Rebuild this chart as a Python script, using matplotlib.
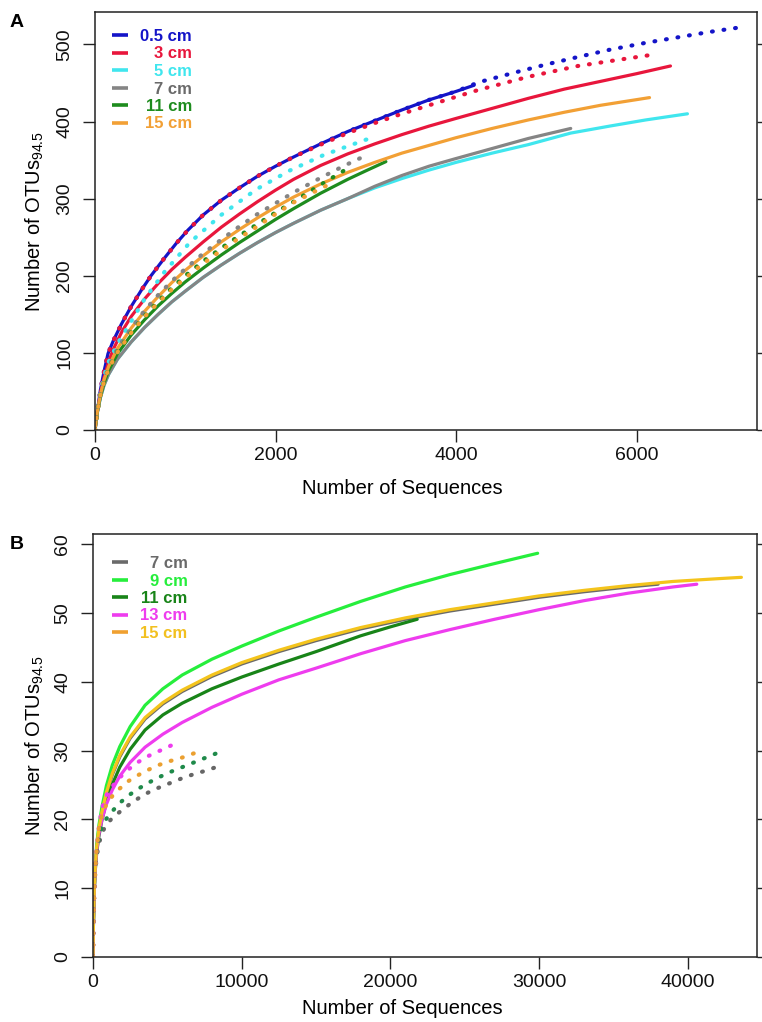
import matplotlib
matplotlib.use('Agg')
import matplotlib.pyplot as plt
from matplotlib.lines import Line2D

plt.rcParams['font.family'] = ['Liberation Sans', 'DejaVu Sans']
plt.rcParams['mathtext.fontset'] = 'custom'
plt.rcParams['mathtext.rm'] = 'Liberation Sans'
plt.rcParams['mathtext.it'] = 'Liberation Sans:italic'
plt.rcParams['mathtext.bf'] = 'Liberation Sans:bold'

# ---------------- Panel A data (x = sequences, y = OTUs) ----------------
a05_solid_x = [0, 25, 60, 100, 144, 200, 291, 400, 512, 620, 770, 900, 1028, 1200, 1400, 1600, 1800,
               2000, 2200, 2500, 2800, 3100, 3400, 3700, 4000, 4200]
a05_solid_y = [0, 24, 52, 76, 99, 115, 137, 160, 181, 200, 223, 242, 259, 279, 298, 314, 329,
               342, 354, 371, 387, 401, 415, 428, 439, 447]
a3_solid_x = [0, 25, 60, 100, 150, 200, 300, 400, 550, 700, 850, 1000, 1200, 1400, 1600, 1800, 2000,
              2200, 2500, 2800, 3100, 3400, 3700, 4000, 4400, 4800, 5200, 5600, 6000, 6376]
a3_solid_y = [0, 23, 48, 68, 88, 104, 128, 147, 170, 190, 208, 224, 244, 263, 280, 296, 311,
              325, 343, 358, 371, 383, 394, 404, 417, 430, 442, 452, 462, 472]
a5_solid_x = [0, 25, 60, 100, 150, 250, 400, 550, 700, 850, 1000, 1200, 1400, 1600, 1800, 2000, 2200,
              2500, 2800, 3100, 3400, 3700, 4000, 4400, 4800, 5271, 5700, 6100, 6564]
a5_solid_y = [0, 22, 42, 58, 72, 92, 114, 133, 150, 166, 180, 198, 214, 229, 243, 256, 268,
              285, 300, 314, 326, 337, 347, 359, 370, 385, 394, 402, 410]
a7_solid_x = [0, 25, 60, 100, 150, 250, 400, 550, 700, 850, 1000, 1200, 1400, 1600, 1800, 2000, 2200,
              2500, 2800, 3100, 3400, 3700, 4000, 4400, 4800, 5271]
a7_solid_y = [0, 22, 42, 58, 72, 92, 114, 133, 150, 166, 180, 198, 214, 229, 243, 256, 268,
              285, 300, 316, 330, 342, 352, 365, 378, 391]
a11_solid_x = [0, 25, 60, 100, 150, 250, 400, 550, 700, 850, 1000, 1200, 1400, 1600, 1800, 2000, 2200,
               2500, 2800, 3000, 3223]
a11_solid_y = [0, 23, 44, 61, 77, 99, 123, 143, 161, 177, 192, 210, 227, 243, 258, 273, 287,
               307, 325, 336, 348]
a15_solid_x = [0, 25, 60, 100, 150, 250, 400, 550, 700, 850, 1000, 1200, 1400, 1600, 1800, 2000, 2200,
               2500, 2800, 3100, 3400, 3700, 4000, 4400, 4800, 5200, 5600, 6144]
a15_solid_y = [0, 23, 46, 65, 82, 106, 132, 154, 173, 191, 207, 226, 244, 260, 275, 289, 302,
               319, 334, 347, 359, 369, 379, 391, 402, 412, 421, 431]

a05_dot_x = [0, 25, 60, 100, 144, 200, 291, 400, 512, 620, 770, 900, 1028, 1200, 1400, 1600, 1800,
             2000, 2200, 2500, 2800, 3100, 3400, 3700, 4000, 4254, 4700, 5000, 5400, 5700, 6100,
             6450, 6800, 7200]
a05_dot_y = [0, 24, 52, 76, 99, 115, 137, 160, 181, 200, 223, 242, 259, 279, 298, 314, 329,
             342, 354, 371, 387, 401, 415, 428, 439, 451, 465, 474, 485, 493, 502, 509, 516, 523]
a3_dot_x = [0, 25, 60, 100, 144, 200, 291, 400, 512, 620, 770, 900, 1028, 1200, 1400, 1600, 1800,
            2000, 2200, 2500, 2800, 3100, 3400, 3700, 4000, 4250, 4800, 5350, 5800, 6200]
a3_dot_y = [0, 24, 52, 76, 99, 115, 137, 160, 181, 200, 223, 242, 259, 279, 298, 314, 329,
            342, 354, 370, 385, 398, 410, 421, 432, 441, 458, 472, 480, 487]
a5_dot_x = [0, 25, 60, 100, 150, 250, 365, 550, 770, 1050, 1400, 1787, 2150, 2523, 2800, 3112]
a5_dot_y = [0, 24, 50, 70, 88, 112, 134, 170, 205, 243, 279, 312, 336, 356, 368, 381]
a7_dot_x = [0, 25, 60, 100, 150, 250, 400, 550, 700, 850, 1000, 1200, 1400, 1600, 1800, 2000, 2200,
            2500, 2750, 2984]
a7_dot_y = [0, 23, 46, 65, 82, 106, 132, 155, 175, 193, 209, 229, 247, 264, 280, 294, 308,
            327, 342, 355]
a11_dot_x = [0, 25, 60, 100, 150, 250, 400, 550, 700, 850, 1000, 1200, 1400, 1600, 1800, 2000, 2200,
             2500, 2782]
a11_dot_y = [0, 23, 45, 63, 79, 102, 127, 148, 167, 184, 200, 219, 236, 252, 267, 282, 296,
             318, 338]
a15_dot_x = [0, 25, 60, 100, 150, 250, 400, 550, 700, 850, 1000, 1200, 1400, 1600, 1800, 2000, 2200,
             2450, 2652]
a15_dot_y = [0, 23, 45, 63, 79, 101, 126, 147, 165, 182, 197, 216, 233, 249, 264, 280, 295,
             310, 322]

a_labels = ['0.5 cm', '3 cm', '5 cm', '7 cm', '11 cm', '15 cm']
a_colors = ['#1414C8', '#E8163C', '#40E6EE', '#858585', '#1E8C1E', '#F2A035']
a_text_colors = ['#1414C8', '#E8163C', '#40E6EE', '#6A6A6A', '#1E8C1E', '#F2A035']

# ---------------- Panel B data ----------------
b7_solid_x = [0, 30, 90, 150, 250, 400, 600, 900, 1300, 1800, 2500, 3500, 4700, 6000, 8000, 10000,
              12500, 15000, 18000, 21000, 24000, 27000, 30000, 33000, 36000, 38000]
b7_solid_y = [0, 5, 10, 12.9, 15.8, 18.5, 20.9, 23.7, 26.5, 29.1, 31.8, 34.6, 36.8, 38.6, 40.8, 42.6,
              44.4, 46.0, 47.7, 49.1, 50.3, 51.3, 52.3, 53.1, 53.8, 54.2]
b9_solid_x = [0, 30, 90, 150, 250, 400, 600, 900, 1300, 1800, 2500, 3500, 4700, 6000, 8000, 10000,
              12500, 15000, 18000, 21000, 24000, 27000, 29900]
b9_solid_y = [0, 5, 10, 13.2, 16.4, 19.2, 21.8, 24.9, 27.9, 30.6, 33.5, 36.6, 39.0, 41.0, 43.3, 45.2,
              47.4, 49.4, 51.7, 53.8, 55.6, 57.2, 58.7]
b11_solid_x = [0, 30, 90, 150, 250, 400, 600, 900, 1300, 1800, 2500, 3500, 4700, 6000, 8000, 10000,
               12500, 15000, 18000, 20000, 21800]
b11_solid_y = [0, 5, 10, 12.5, 15.2, 17.6, 19.9, 22.5, 25.1, 27.6, 30.2, 33.0, 35.2, 36.9, 39.0, 40.7,
               42.6, 44.4, 46.7, 48.0, 49.1]
b13_solid_x = [0, 30, 90, 150, 250, 400, 600, 900, 1300, 1800, 2500, 3500, 4700, 6000, 8000, 10000,
               12500, 15000, 18000, 21000, 24000, 27000, 30000, 33000, 36000, 39000, 40600]
b13_solid_y = [0, 5, 10, 12.8, 15.5, 17.9, 20.0, 22.2, 24.3, 26.3, 28.3, 30.5, 32.4, 34.1, 36.3, 38.2,
               40.3, 42.0, 44.1, 46.0, 47.6, 49.1, 50.5, 51.8, 52.9, 53.8, 54.2]
b15_solid_x = [0, 30, 90, 150, 250, 400, 600, 900, 1300, 1800, 2500, 3500, 4700, 6000, 8000, 10000,
               12500, 15000, 18000, 21000, 24000, 27000, 30000, 33000, 36000, 39000, 42000, 43600]
b15_solid_y = [0, 5, 10, 13, 16, 18.7, 21.1, 23.9, 26.7, 29.3, 32.0, 34.8, 37.0, 38.8, 41.0, 42.8,
               44.6, 46.2, 47.9, 49.3, 50.5, 51.5, 52.5, 53.3, 54.0, 54.6, 55.0, 55.2]

b7_dot_x = [0, 30, 90, 150, 250, 400, 600, 900, 1300, 1800, 2400, 3000, 3700, 4400, 5200, 6000, 6800,
            7600, 8400]
b7_dot_y = [0, 5, 10, 12.3, 14.6, 16.5, 18.0, 19.3, 20.2, 21.1, 22.1, 23.0, 23.9, 24.6, 25.3, 26.0, 26.6,
            27.1, 27.7]
b11_dot_x = [0, 30, 90, 150, 250, 400, 600, 900, 1300, 1800, 2400, 3000, 3700, 4400, 5200, 6000, 6800,
             7600, 8400]
b11_dot_y = [0, 5, 10, 12.6, 15.3, 17.6, 19.0, 20.1, 21.2, 22.4, 23.5, 24.4, 25.3, 26.1, 26.9, 27.6, 28.3,
             29.0, 29.7]
b13_dot_x = [0, 30, 90, 150, 250, 400, 600, 900, 1300, 1800, 2400, 3000, 3700, 4500, 5300]
b13_dot_y = [0, 5, 10, 13.0, 16.0, 19.0, 21.6, 23.5, 24.8, 26.1, 27.3, 28.3, 29.2, 30.0, 30.8]
b15_dot_x = [0, 30, 90, 150, 250, 400, 600, 900, 1300, 1800, 2400, 3000, 3700, 4400, 5200, 6000, 6900]
b15_dot_y = [0, 5, 10, 12.8, 15.8, 18.8, 20.6, 22.2, 23.4, 24.5, 25.6, 26.4, 27.2, 27.9, 28.5, 29.0, 29.7]

b_labels = ['7 cm', '9 cm', '11 cm', '13 cm', '15 cm']
b_colors = ['#6A6A6A', '#26EE3C', '#188418', '#EE3CEE', '#F4C41C']
b_legend_line_colors = ['#6A6A6A', '#26EE3C', '#188418', '#EE3CEE', '#F0A030']
b_text_colors = ['#6A6A6A', '#26EE3C', '#188418', '#EE3CEE', '#F2C020']
b_dot_colors = ['#666666', '#1F8A4A', '#EE3CEE', '#EBA030']

a_xticks = [0, 2000, 4000, 6000]
a_yticks = [0, 100, 200, 300, 400, 500]
b_xticks = [0, 10000, 20000, 30000, 40000]
b_yticks = [0, 10, 20, 30, 40, 50, 60]

# ---------------- Layout ----------------
W, H, DPI = 762, 1022, 100
fig = plt.figure(figsize=(W / DPI, H / DPI), dpi=DPI)


def px_axes(l, t, r, b):
    return fig.add_axes([l / W, 1 - b / H, (r - l) / W, (b - t) / H])


axA = px_axes(95, 12, 757, 430)
axB = px_axes(93, 534, 757, 957)

SOLID_LW = 2.3
DOT_LW = 3.0
DOT_STYLE = (0, (0.2, 2.6))


def solid(ax, x, y, c):
    ax.plot(x, y, color=c, lw=SOLID_LW, solid_capstyle='round', solid_joinstyle='round')


def dotted(ax, x, y, c):
    ax.plot(x, y, color=c, lw=DOT_LW, linestyle=DOT_STYLE, dash_capstyle='round')


# Panel A
a_solids = [(a05_solid_x, a05_solid_y), (a3_solid_x, a3_solid_y), (a5_solid_x, a5_solid_y),
            (a7_solid_x, a7_solid_y), (a11_solid_x, a11_solid_y), (a15_solid_x, a15_solid_y)]
a_dots = [(a05_dot_x, a05_dot_y), (a3_dot_x, a3_dot_y), (a5_dot_x, a5_dot_y),
          (a7_dot_x, a7_dot_y), (a11_dot_x, a11_dot_y), (a15_dot_x, a15_dot_y)]
for (x, y), c in zip(a_solids, a_colors):
    solid(axA, x, y, c)
for (x, y), c in zip(a_dots, a_colors):
    dotted(axA, x, y, c)

# Panel B
b_solids = [(b7_solid_x, b7_solid_y), (b9_solid_x, b9_solid_y), (b11_solid_x, b11_solid_y),
            (b13_solid_x, b13_solid_y), (b15_solid_x, b15_solid_y)]
b_dots = [(b7_dot_x, b7_dot_y), (b11_dot_x, b11_dot_y), (b13_dot_x, b13_dot_y), (b15_dot_x, b15_dot_y)]
for (x, y), c in zip(b_solids, b_colors):
    solid(axB, x, y, c)
for (x, y), c in zip(b_dots, b_dot_colors):
    dotted(axB, x, y, c)

axA.set_xlim(0, 7335)
axA.set_ylim(0, 542)
axB.set_xlim(0, 44650)
axB.set_ylim(0, 61.5)
axA.set_xticks(a_xticks)
axA.set_yticks(a_yticks)
axB.set_xticks(b_xticks)
axB.set_yticks(b_yticks)

for ax in (axA, axB):
    ax.tick_params(axis='both', direction='out', length=8.5, width=1.0, labelsize=14,
                   color='#222222', labelcolor='#111111', right=True, labelright=False)
    ax.tick_params(axis='x', pad=4)
    ax.tick_params(axis='y', pad=7, labelrotation=90)
    for lbl in ax.get_yticklabels():
        lbl.set_va('center')
    for sp in ax.spines.values():
        sp.set_linewidth(1.1)
        sp.set_color('#222222')
    ax.set_xlabel('Number of Sequences', fontsize=14.5)
    ax.set_ylabel(r'Number of OTUs$_{\mathregular{94.5}}$', fontsize=14.5)

axA.xaxis.set_label_coords((402 - 95) / 662, -(479 - 430) / 418)
axA.yaxis.set_label_coords((46 - 95) / 662, 0.5)
axB.xaxis.set_label_coords((402 - 93) / 664, -(999 - 957) / 423)
axB.yaxis.set_label_coords((46 - 93) / 664, 0.5)

fig.text(10 / W, 1 - 14 / H, 'A', fontsize=14, fontweight='bold', va='top', ha='left')
fig.text(10 / W, 1 - 536 / H, 'B', fontsize=14, fontweight='bold', va='top', ha='left')


def add_legend(ax, labels, line_colors, text_colors, left_px, top_px):
    handles = [Line2D([], [], color=c, lw=2.6, solid_capstyle='butt') for c in line_colors]
    leg = ax.legend(handles, labels, loc='upper left',
                    bbox_to_anchor=(left_px / W, 1 - top_px / H), bbox_transform=fig.transFigure,
                    frameon=False, prop=dict(weight='bold', size=12), handlelength=0.95,
                    handletextpad=0.75, labelspacing=0.15, borderpad=0, borderaxespad=0)
    for t, c in zip(leg.get_texts(), text_colors):
        t.set_color(c)
    renderer = fig.canvas.get_renderer()
    widths = [t.get_window_extent(renderer).width for t in leg.get_texts()]
    m = max(widths)
    for t, w in zip(leg.get_texts(), widths):
        t.set_x(m - w)
    return leg


add_legend(axA, a_labels, a_colors, a_text_colors, 112, 29)
add_legend(axB, b_labels, b_legend_line_colors, b_text_colors, 112, 556)

fig.savefig('out.png', dpi=DPI)
